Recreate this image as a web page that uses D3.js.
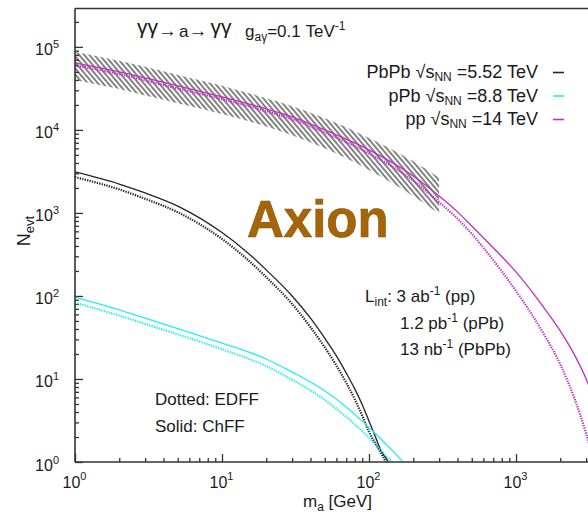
<!DOCTYPE html>
<html>
<head>
<meta charset="utf-8">
<script src="https://cdn.jsdelivr.net/npm/d3@7"></script>
<style>
  body { margin: 0; background: #fff; }
  svg { display: block; }
  text { font-family: "Liberation Sans", Arial, Helvetica, sans-serif; fill: #1a1a1a; }
</style>
</head>
<body>
<svg id="chart" width="588" height="518"></svg>
<script>
// Axion production gamma gamma -> a -> gamma gamma, event counts vs axion mass

// PbPb, sqrt(sNN) = 5.52 TeV
const pbpbMassChFF = [1, 2, 3, 5, 10, 15, 20, 30, 40, 50, 60, 70, 80, 90, 100, 110, 120, 135, 140];
const pbpbChFF     = [3120, 2230, 1740, 1210, 580, 330, 206, 100, 54, 31, 19, 11.8, 7.6, 4.9, 3.1, 2.06, 1.4, 1.0, 0.85];
const pbpbMassEDFF = [1, 2, 3, 5, 10, 15, 20, 30, 40, 50, 60, 70, 80, 90, 100, 110, 120, 130, 135];
const pbpbEDFF     = [2700, 1920, 1480, 1020, 485, 272, 168, 80, 42, 24, 14.5, 9, 5.7, 3.6, 2.3, 1.7, 1.3, 1.0, 0.85];

// pPb, sqrt(sNN) = 8.8 TeV
const ppbMass = [1, 2, 3, 5, 10, 20, 30, 40, 50, 70, 100, 130, 145, 160, 170, 180];
const ppbChFF = [97, 68, 54, 40.5, 27, 17.4, 12.1, 9.2, 7.2, 4.6, 2.6, 1.65, 1.36, 1.13, 1.0, 0.87];
const ppbEDFF = [83, 58, 46, 34.5, 22.8, 14.3, 9.8, 7.3, 5.6, 3.5, 1.95, 1.2, 0.98, 0.8, 0.7, 0.6];

// pp, sqrt(s) = 14 TeV
const ppMass = [1, 2, 3, 5, 10, 20, 30, 50, 100, 200, 300, 400, 500, 700, 1000, 1500, 2000, 2500, 3000, 3500, 4000];
const ppChFF = [64100, 50000, 42300, 33900, 25000, 17900, 14400, 10000, 5740, 2790, 1600, 1030, 697, 380, 195, 78, 38, 19.5, 10, 4.8, 2.2];
const ppEDFF = [60000, 47000, 39500, 31500, 23500, 16800, 13500, 9300, 5200, 2450, 1350, 850, 560, 270, 115, 38, 15, 5.8, 2.2, 0.8, 0.3];

// pp uncertainty band
const bandMass = [1, 2, 3, 5, 10, 20, 30, 50, 100, 200, 300];
const bandHigh = [87000, 68000, 57500, 46000, 34000, 24000, 19300, 13800, 8000, 4200, 2650];
const bandLow  = [40000, 31000, 26000, 21000, 15500, 11000, 8600, 6000, 3300, 1600, 980];

// axis ticks
const xMajorTicks = [1, 10, 100, 1000];
const yMajorTicks = [1, 10, 100, 1000, 10000, 100000];

const legendRows = [
  { sys: "PbPb", energy: "=5.52 TeV", color: "#222222" },
  { sys: "pPb",  energy: "=8.8 TeV",  color: "#22eef4" },
  { sys: "pp",   energy: "=14 TeV",   color: "#c02fc0" }
];
const lumiRows = [
  { lead: "L", sub: "int", pre: ": 3 ab", tail: " (pp)" },
  { lead: "",  sub: "",    pre: "1.2 pb", tail: " (pPb)" },
  { lead: "",  sub: "",    pre: "13 nb",  tail: " (PbPb)" }
];

const colBlack = "#222222", colCyan = "#22eef4", colMag = "#c02fc0";

const svg = d3.select("#chart");
const plotLeft = 75, plotTop = 8.5, plotBottom = 462, plotRight = 663;

const x = d3.scaleLog().domain([1, 1e4]).range([plotLeft, plotRight]);
const y = d3.scaleLog().domain([1, 2.9e5]).range([plotBottom, plotTop]);

const defs = svg.append("defs");
defs.append("clipPath").attr("id", "plotClip")
  .append("rect").attr("x", plotLeft).attr("y", plotTop)
  .attr("width", plotRight - plotLeft).attr("height", plotBottom - plotTop);

const hatch = defs.append("pattern").attr("id", "hatch")
  .attr("patternUnits", "userSpaceOnUse").attr("width", 3.9).attr("height", 3.9)
  .attr("patternTransform", "rotate(-40)");
hatch.append("line").attr("x1", 1.95).attr("y1", 0).attr("x2", 1.95).attr("y2", 3.9)
  .attr("stroke", "#2a2a2a").attr("stroke-width", 1.15);

// minor tick values
function minorTicks(maxVal) {
  const out = [];
  for (let d = 1; d <= maxVal; d *= 10)
    for (let k = 2; k <= 9; k++) if (d * k <= maxVal) out.push(d * k);
  return out;
}
const xMinor = minorTicks(3500);
const yMinor = minorTicks(2.9e5);

function expLabel(sel, supDy, supSize) {
  sel.each(function (d) {
    const t = d3.select(this);
    t.text(null);
    t.append("tspan").text("10");
    t.append("tspan").attr("dy", supDy).attr("font-size", supSize).text(Math.round(Math.log10(d)));
  });
}

// x axis
const gxMinor = svg.append("g").attr("transform", `translate(0,${plotBottom})`)
  .call(d3.axisBottom(x).tickValues(xMinor).tickSize(-4).tickFormat(""));
gxMinor.select(".domain").remove();
const gx = svg.append("g").attr("transform", `translate(0,${plotBottom})`)
  .call(d3.axisBottom(x).tickValues(xMajorTicks).tickSize(-8).tickSizeOuter(0));
gx.select(".domain").remove();
gx.selectAll(".tick text").attr("y", 26).attr("dy", null).attr("x", -1)
  .attr("font-size", 16).call(expLabel, -8, 11);

// y axis
const gyMinor = svg.append("g").attr("transform", `translate(${plotLeft},0)`)
  .call(d3.axisLeft(y).tickValues(yMinor).tickSize(-4).tickFormat(""));
gyMinor.select(".domain").remove();
const gy = svg.append("g").attr("transform", `translate(${plotLeft},0)`)
  .call(d3.axisLeft(y).tickValues(yMajorTicks).tickSize(-8).tickPadding(16).tickSizeOuter(0));
gy.select(".domain").remove();
gy.selectAll(".tick text").attr("y", 8).attr("dy", null)
  .attr("font-size", 16).call(expLabel, -7, 11);

svg.selectAll(".tick line").attr("stroke", "#333").attr("stroke-width", 1.3);
svg.selectAll("g text").attr("fill", "#1a1a1a").attr("font-family", "Liberation Sans, Arial, sans-serif");

// curves
const plot = svg.append("g").attr("clip-path", "url(#plotClip)");
const lineOf = (ms, vs) => d3.line().curve(d3.curveMonotoneX)
  .x((d, i) => x(ms[i])).y((d, i) => y(vs[i]))(vs);

const band = d3.area().curve(d3.curveMonotoneX)
  .x((d, i) => x(bandMass[i])).y0((d, i) => y(bandLow[i])).y1((d, i) => y(bandHigh[i]));
plot.append("path").attr("d", band(bandMass)).attr("fill", "url(#hatch)").attr("stroke", "none");

function drawCurve(ms, vs, color, dotted) {
  plot.append("path").attr("d", lineOf(ms, vs)).attr("fill", "none")
    .attr("stroke", color)
    .attr("stroke-width", dotted ? 2.2 : 1.3)
    .attr("stroke-dasharray", dotted ? "1.3 1.2" : null);
}
drawCurve(pbpbMassEDFF, pbpbEDFF, colBlack, true);
drawCurve(pbpbMassChFF, pbpbChFF, colBlack, false);
drawCurve(ppbMass, ppbEDFF, colCyan, true);
drawCurve(ppbMass, ppbChFF, colCyan, false);
drawCurve(ppMass, ppEDFF, colMag, true);
drawCurve(ppMass, ppChFF, colMag, false);

// frame
const frame = svg.append("g").attr("stroke", "#333").attr("stroke-width", 1.6).attr("fill", "none");
frame.append("line").attr("x1", plotLeft).attr("y1", plotTop).attr("x2", plotLeft).attr("y2", plotBottom);
frame.append("line").attr("x1", plotLeft).attr("y1", plotBottom).attr("x2", 588).attr("y2", plotBottom);
frame.append("line").attr("x1", plotLeft).attr("y1", plotTop).attr("x2", 588).attr("y2", plotTop);

// title: process and coupling
const title = svg.append("text").attr("x", 137).attr("y", 37).attr("font-size", 17);
title.append("tspan").attr("font-size", 21).attr("dy", -3).text("γγ");
title.append("tspan").attr("dy", 3).attr("font-size", 19).text("→");
title.append("tspan").attr("dx", 2).text("a");
title.append("tspan").attr("font-size", 19).text("→");
title.append("tspan").attr("font-size", 21).attr("dx", 3).attr("dy", -3).text("γγ");
const coup = svg.append("text").attr("x", 245).attr("y", 37).attr("font-size", 17);
coup.append("tspan").text("g");
coup.append("tspan").attr("dy", 4).attr("font-size", 12).text("aγ");
coup.append("tspan").attr("dy", -4).text("=0.1 TeV");
coup.append("tspan").attr("dy", -7).attr("font-size", 12).text("-1");

// legend
legendRows.forEach((r, i) => {
  const by = 78 + i * 23.5;
  const t = svg.append("text").attr("x", 538).attr("y", by).attr("text-anchor", "end").attr("font-size", 18);
  t.append("tspan").text(r.sys + " √s");
  t.append("tspan").attr("dy", 3).attr("font-size", 12).text("NN");
  t.append("tspan").attr("dy", -3).text(" " + r.energy);
  svg.append("line").attr("x1", 553).attr("x2", 564).attr("y1", by - 5.5).attr("y2", by - 5.5)
    .attr("stroke", r.color).attr("stroke-width", 1.6);
});

// luminosity block
lumiRows.forEach((r, i) => {
  const t = svg.append("text").attr("x", i === 0 ? 365 : 400).attr("y", 302 + i * 26.5).attr("font-size", 17);
  if (r.lead) {
    t.append("tspan").text(r.lead);
    t.append("tspan").attr("dy", 4).attr("font-size", 12).text(r.sub);
    t.append("tspan").attr("dy", -4).text(r.pre);
  } else {
    t.append("tspan").text(r.pre);
  }
  t.append("tspan").attr("dy", -7).attr("font-size", 12).text("-1");
  t.append("tspan").attr("dy", 7).text(r.tail);
});

// line style key
svg.append("text").attr("x", 155).attr("y", 405).attr("font-size", 17).text("Dotted: EDFF");
svg.append("text").attr("x", 155).attr("y", 432).attr("font-size", 17).text("Solid: ChFF");

// big label
svg.append("text").attr("x", 247).attr("y", 237).attr("font-size", 51).attr("font-weight", "bold")
  .style("fill", "#a5660a").attr("stroke", "#8c5206").attr("stroke-width", 0.6).text("Axion");

// axis titles
const xt = svg.append("text").attr("x", 303).attr("y", 507).attr("font-size", 17);
xt.append("tspan").text("m");
xt.append("tspan").attr("dy", 4).attr("font-size", 12).text("a");
xt.append("tspan").attr("dy", -4).text(" [GeV]");

const yt = svg.append("text").attr("transform", "translate(30,231) rotate(-90)")
  .attr("text-anchor", "middle").attr("font-size", 18);
yt.append("tspan").text("N");
yt.append("tspan").attr("dy", 4).attr("font-size", 13).text("evt");
</script>
</body>
</html>
